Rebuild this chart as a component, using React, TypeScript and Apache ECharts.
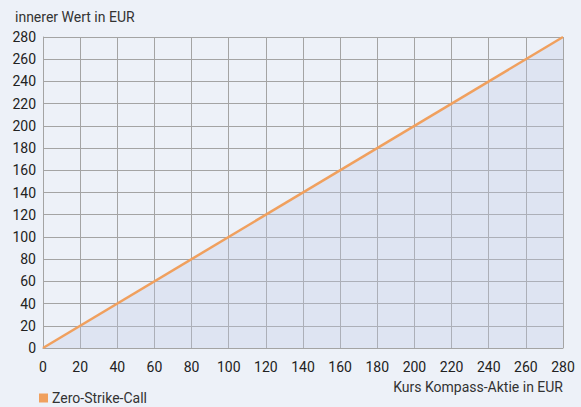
import React, { useEffect, useRef } from "react";
import * as echarts from "echarts";

const xTicks = [0, 20, 40, 60, 80, 100, 120, 140, 160, 180, 200, 220, 240, 260, 280];
const kurs = [0, 280];
const innererWert = [0, 280];
const seriesName = "Zero-Strike-Call";
const yTitle = "innerer Wert in EUR";
const xTitle = "Kurs Kompass-Aktie in EUR";

const FONT = "Roboto, 'Liberation Sans', sans-serif";

export default function App() {
  const ref = useRef<HTMLDivElement>(null);
  useEffect(() => {
    document.body.style.margin = "0";
    const chart = echarts.init(ref.current!, null, { renderer: "svg" });
    const data = kurs.map((k, i) => [k, innererWert[i]]);
    chart.setOption({
      animation: false,
      backgroundColor: "#edf1f8",
      textStyle: { fontFamily: FONT, color: "#333" },
      title: {
        text: yTitle,
        left: 10,
        top: 5,
        textStyle: { fontFamily: FONT, fontSize: 14, fontWeight: "normal", color: "#333" },
      },
      legend: {
        left: 39,
        top: 391,
        padding: 0,
        itemWidth: 9,
        itemHeight: 9,
        itemGap: 5,
        icon: "rect",
        textStyle: { fontFamily: FONT, fontSize: 14, lineHeight: 14, color: "#333", padding: [0, 0, 0, -1] },
        data: [{ name: seriesName, itemStyle: { color: "#f0a05e" } }],
      },
      grid: { left: 43, top: 37, right: 18, bottom: 59, containLabel: false },
      xAxis: {
        type: "value",
        min: xTicks[0],
        max: xTicks[xTicks.length - 1],
        interval: 20,
        name: xTitle,
        nameLocation: "end",
        nameGap: 0,
        nameTextStyle: {
          fontFamily: FONT,
          fontSize: 14,
          color: "#333",
          align: "right",
          verticalAlign: "top",
          padding: [32, 0, 0, 0],
        },
        axisLine: { show: true, lineStyle: { color: "#a4a4a4", width: 1 } },
        axisTick: { show: false },
        axisLabel: { fontFamily: FONT, fontSize: 14, color: "#222", margin: 12 },
        splitLine: { show: true, lineStyle: { color: "#a4a4a4", width: 1 } },
      },
      yAxis: {
        type: "value",
        min: 0,
        max: 280,
        interval: 20,
        axisLine: { show: true, lineStyle: { color: "#a4a4a4", width: 1 } },
        axisTick: { show: false },
        axisLabel: { fontFamily: FONT, fontSize: 14, color: "#222", margin: 7 },
        splitLine: { show: true, lineStyle: { color: "#a4a4a4", width: 1 } },
      },
      series: [
        {
          name: seriesName,
          type: "line",
          data,
          symbol: "none",
          lineStyle: { color: "#f0a05e", width: 2.5 },
          itemStyle: { color: "#f0a05e" },
          areaStyle: { color: "rgba(190,202,228,0.45)", origin: "start" },
          z: 3,
        },
      ],
    });
    return () => chart.dispose();
  }, []);
  return <div ref={ref} style={{ width: 581, height: 407 }} />;
}
